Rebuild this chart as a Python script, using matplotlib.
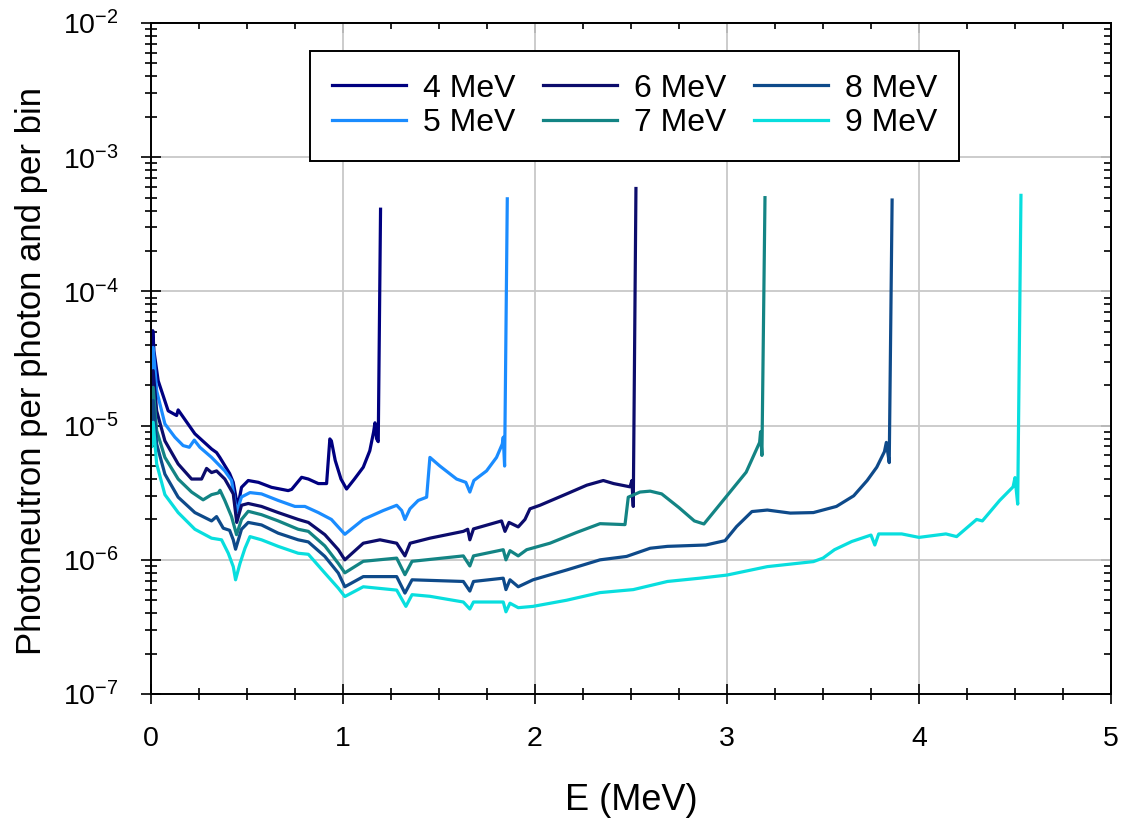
import matplotlib
matplotlib.use("Agg")
import matplotlib.pyplot as plt
from matplotlib.ticker import MultipleLocator, LogLocator, NullFormatter, LogFormatterMathtext

plt.rcParams['font.family'] = ['Liberation Sans', 'DejaVu Sans']

labels = ["4 MeV", "5 MeV", "6 MeV", "7 MeV", "8 MeV", "9 MeV"]
colors = ["#000080", "#1A8CFF", "#0C0C6C", "#138484", "#0E4A8A", "#08DEDE"]

e4 = [0.004, 0.01, 0.016, 0.038, 0.09, 0.134, 0.142, 0.229, 0.316, 0.342, 0.359, 0.41, 0.429,
      0.446, 0.455, 0.472, 0.507, 0.56, 0.628, 0.715, 0.733, 0.785, 0.82, 0.872, 0.915, 0.932,
      0.94, 0.96, 0.99, 1.019, 1.06, 1.106, 1.14, 1.16, 1.167, 1.175, 1.184, 1.196]
y4 = [2.5e-5, 5.1e-5, 3.6e-5, 2.16e-5, 1.29e-5, 1.19e-5, 1.31e-5, 8.7e-6, 6.7e-6, 6.3e-6, 5.8e-6,
      4.4e-6, 3.78e-6, 2.76e-6, 2.6e-6, 3.47e-6, 3.9e-6, 3.78e-6, 3.47e-6, 3.28e-6, 3.35e-6,
      4.12e-6, 4.0e-6, 3.7e-6, 3.7e-6, 7.96e-6, 7.7e-6, 5.5e-6, 4.0e-6, 3.37e-6, 4.0e-6, 4.9e-6,
      6.5e-6, 9.0e-6, 1.05e-5, 8.0e-6, 7.6e-6, 4.1e-4]

e5 = [0.004, 0.012, 0.03, 0.073, 0.125, 0.168, 0.20, 0.226, 0.255, 0.316, 0.385, 0.42, 0.446,
      0.472, 0.516, 0.576, 0.663, 0.75, 0.802, 0.872, 0.94, 1.01, 1.106, 1.21, 1.28, 1.306,
      1.323, 1.349, 1.392, 1.436, 1.453, 1.505, 1.592, 1.64, 1.661, 1.682, 1.748, 1.80, 1.83,
      1.835, 1.842, 1.856]
y5 = [2.0e-5, 3.83e-5, 1.82e-5, 1.03e-5, 8.2e-6, 7.1e-6, 6.9e-6, 7.8e-6, 6.9e-6, 5.8e-6, 4.6e-6,
      3.9e-6, 2.26e-6, 2.94e-6, 3.17e-6, 3.1e-6, 2.77e-6, 2.5e-6, 2.5e-6, 2.25e-6, 2.0e-6,
      1.55e-6, 2.0e-6, 2.33e-6, 2.55e-6, 2.33e-6, 2.0e-6, 2.4e-6, 2.77e-6, 2.93e-6, 5.8e-6,
      5.0e-6, 4.0e-6, 3.78e-6, 3.2e-6, 3.9e-6, 4.6e-6, 5.8e-6, 7.3e-6, 8.2e-6, 5.0e-6, 4.9e-4]

e6 = [0.004, 0.012, 0.03, 0.073, 0.142, 0.212, 0.264, 0.29, 0.316, 0.342, 0.385, 0.429, 0.447,
      0.472, 0.507, 0.576, 0.663, 0.767, 0.82, 0.906, 0.976, 1.01, 1.106, 1.193, 1.28, 1.323,
      1.35, 1.453, 1.627, 1.65, 1.661, 1.68, 1.826, 1.844, 1.865, 1.913, 1.948, 1.974, 2.026,
      2.165, 2.27, 2.356, 2.41, 2.495, 2.505, 2.512, 2.526]
y6 = [1.5e-5, 2.57e-5, 1.29e-5, 7.7e-6, 5.18e-6, 4.0e-6, 4.0e-6, 4.8e-6, 4.47e-6, 4.6e-6, 4.0e-6,
      3.1e-6, 1.9e-6, 2.55e-6, 2.63e-6, 2.5e-6, 2.25e-6, 2.0e-6, 1.9e-6, 1.54e-6, 1.19e-6,
      1.0e-6, 1.33e-6, 1.41e-6, 1.33e-6, 1.07e-6, 1.33e-6, 1.45e-6, 1.63e-6, 1.69e-6, 1.41e-6,
      1.7e-6, 1.95e-6, 1.63e-6, 1.9e-6, 1.76e-6, 2.0e-6, 2.4e-6, 2.55e-6, 3.1e-6, 3.6e-6,
      3.9e-6, 3.7e-6, 3.5e-6, 3.9e-6, 2.5e-6, 5.85e-4]

e7 = [0.004, 0.012, 0.03, 0.073, 0.142, 0.212, 0.272, 0.316, 0.351, 0.36, 0.385, 0.42, 0.446,
      0.472, 0.507, 0.576, 0.663, 0.767, 0.82, 0.906, 0.976, 1.01, 1.106, 1.28, 1.323, 1.36,
      1.627, 1.661, 1.68, 1.835, 1.849, 1.87, 1.913, 1.957, 2.078, 2.217, 2.339, 2.469, 2.486,
      2.547, 2.6, 2.66, 2.75, 2.83, 2.88, 2.98, 3.10, 3.17, 3.175, 3.182, 3.198]
y7 = [1.2e-5, 1.93e-5, 9.2e-6, 5.8e-6, 4.0e-6, 3.2e-6, 2.8e-6, 3.06e-6, 3.15e-6, 3.3e-6, 2.77e-6,
      2.1e-6, 1.54e-6, 2.0e-6, 2.3e-6, 2.17e-6, 1.95e-6, 1.69e-6, 1.63e-6, 1.27e-6, 9.4e-7,
      8.0e-7, 9.75e-7, 1.03e-6, 7.75e-7, 9.75e-7, 1.07e-6, 9.0e-7, 1.07e-6, 1.19e-6, 1.0e-6,
      1.17e-6, 1.07e-6, 1.19e-6, 1.33e-6, 1.6e-6, 1.86e-6, 1.83e-6, 2.93e-6, 3.2e-6, 3.25e-6,
      3.1e-6, 2.45e-6, 1.95e-6, 1.85e-6, 2.77e-6, 4.5e-6, 7.5e-6, 9.0e-6, 6.0e-6, 5.0e-4]

e8 = [0.004, 0.012, 0.03, 0.073, 0.142, 0.229, 0.316, 0.342, 0.377, 0.41, 0.429, 0.441, 0.472,
      0.507, 0.576, 0.663, 0.767, 0.82, 0.906, 0.976, 1.01, 1.106, 1.28, 1.323, 1.36, 1.627,
      1.661, 1.68, 1.835, 1.849, 1.87, 1.913, 1.99, 2.165, 2.339, 2.477, 2.6, 2.69, 2.89, 2.99,
      3.05, 3.13, 3.21, 3.33, 3.45, 3.57, 3.66, 3.73, 3.78, 3.82, 3.83, 3.845, 3.86]
y8 = [1.0e-5, 1.54e-5, 7.3e-6, 4.35e-6, 2.93e-6, 2.25e-6, 1.95e-6, 2.1e-6, 1.72e-6, 1.66e-6,
      1.41e-6, 1.2e-6, 1.69e-6, 1.9e-6, 1.82e-6, 1.58e-6, 1.41e-6, 1.36e-6, 1.06e-6, 7.97e-7,
      6.3e-7, 7.5e-7, 7.5e-7, 5.65e-7, 7.1e-7, 6.9e-7, 5.85e-7, 6.9e-7, 7.3e-7, 6.0e-7, 7.1e-7,
      6.3e-7, 7.1e-7, 8.4e-7, 1.0e-6, 1.06e-6, 1.22e-6, 1.26e-6, 1.29e-6, 1.39e-6, 1.77e-6,
      2.29e-6, 2.35e-6, 2.23e-6, 2.25e-6, 2.5e-6, 3.0e-6, 3.9e-6, 4.9e-6, 6.4e-6, 7.5e-6,
      5.3e-6, 4.8e-4]

e9 = [0.004, 0.012, 0.03, 0.073, 0.142, 0.229, 0.316, 0.368, 0.403, 0.429, 0.441, 0.464, 0.49,
      0.516, 0.576, 0.663, 0.767, 0.82, 0.906, 0.976, 1.01, 1.106, 1.28, 1.328, 1.36, 1.453,
      1.627, 1.661, 1.68, 1.835, 1.849, 1.87, 1.913, 1.99, 2.165, 2.339, 2.512, 2.69, 2.859,
      3.0, 3.21, 3.45, 3.5, 3.56, 3.65, 3.75, 3.77, 3.79, 3.91, 4.0, 4.14, 4.196, 4.30, 4.33,
      4.42, 4.49, 4.5, 4.514, 4.531]
y9 = [7.0e-6, 1.06e-5, 5.2e-6, 3.06e-6, 2.25e-6, 1.69e-6, 1.45e-6, 1.41e-6, 1.12e-6, 8.9e-7,
      7.1e-7, 9.4e-7, 1.22e-6, 1.49e-6, 1.41e-6, 1.26e-6, 1.12e-6, 1.1e-6, 7.97e-7, 6.15e-7,
      5.33e-7, 6.3e-7, 5.95e-7, 4.5e-7, 5.5e-7, 5.35e-7, 4.85e-7, 4.3e-7, 4.85e-7, 4.85e-7,
      4.1e-7, 4.75e-7, 4.4e-7, 4.5e-7, 5.0e-7, 5.7e-7, 6.0e-7, 6.9e-7, 7.3e-7, 7.7e-7, 8.9e-7,
      9.7e-7, 1.03e-6, 1.19e-6, 1.37e-6, 1.53e-6, 1.29e-6, 1.56e-6, 1.56e-6, 1.47e-6, 1.56e-6,
      1.49e-6, 2.0e-6, 1.95e-6, 2.77e-6, 3.5e-6, 4.1e-6, 2.6e-6, 5.2e-4]

energies = [e4, e5, e6, e7, e8, e9]
values = [y4, y5, y6, y7, y8, y9]

fig = plt.figure(figsize=(11.26, 8.23), dpi=100)
ax = fig.add_axes([0.134, 0.1567, 0.8527, 0.8153])

for e, y, lab, c in zip(energies, values, labels, colors):
    ax.plot(e, y, color=c, lw=2.3, label=lab, solid_joinstyle='round')

ax.set_yscale('log')
ax.set_xlim(0, 5)
ax.set_ylim(1e-7, 1e-2)

ax.xaxis.set_major_locator(MultipleLocator(1))
ax.xaxis.set_minor_locator(MultipleLocator(0.25))
ax.yaxis.set_major_locator(LogLocator(base=10, numticks=10))
ax.yaxis.set_minor_locator(LogLocator(base=10, subs=range(2, 10), numticks=20))
ax.yaxis.set_major_formatter(LogFormatterMathtext())
ax.yaxis.set_minor_formatter(NullFormatter())

ax.grid(True, which='major', color='#c8c8c8', lw=1.3)
ax.set_axisbelow(True)

ax.tick_params(which='major', direction='inout', length=14, width=1.2, labelsize=20.5, pad=16)
ax.tick_params(which='minor', direction='inout', length=9, width=1.2)
for s in ax.spines.values():
    s.set_linewidth(1.4)

# ticks on the top and right sides point inward only
top = ax.secondary_xaxis('top')
top.xaxis.set_major_locator(MultipleLocator(1))
top.xaxis.set_minor_locator(MultipleLocator(0.25))
top.tick_params(which='major', direction='in', length=7, width=1.2, labeltop=False)
top.tick_params(which='minor', direction='in', length=4.5, width=1.2)
top.spines['top'].set_linewidth(1.4)

right = ax.secondary_yaxis('right')
right.set_yscale('log')
right.yaxis.set_major_locator(LogLocator(base=10, numticks=10))
right.yaxis.set_minor_locator(LogLocator(base=10, subs=range(2, 10), numticks=20))
right.tick_params(which='major', direction='in', length=7, width=1.2, labelright=False)
right.tick_params(which='minor', direction='in', length=5, width=1.2)
right.yaxis.set_minor_formatter(NullFormatter())
right.spines['right'].set_linewidth(1.4)

ax.set_xlabel("E (MeV)", fontsize=26, labelpad=22)
ax.set_ylabel("Photoneutron per photon and per bin", fontsize=25, labelpad=11)
ax.yaxis.label.set_y(0.482)

leg = ax.legend(ncol=3, loc='upper center', bbox_to_anchor=(0.504, 0.958), fontsize=23,
                frameon=True, fancybox=False, edgecolor='black', framealpha=1,
                handlelength=2.3, handletextpad=0.53, columnspacing=0.88,
                labelspacing=0.15, borderpad=0.7, borderaxespad=0)
leg.get_frame().set_linewidth(1.4)

fig.savefig("out.png", dpi=100)
